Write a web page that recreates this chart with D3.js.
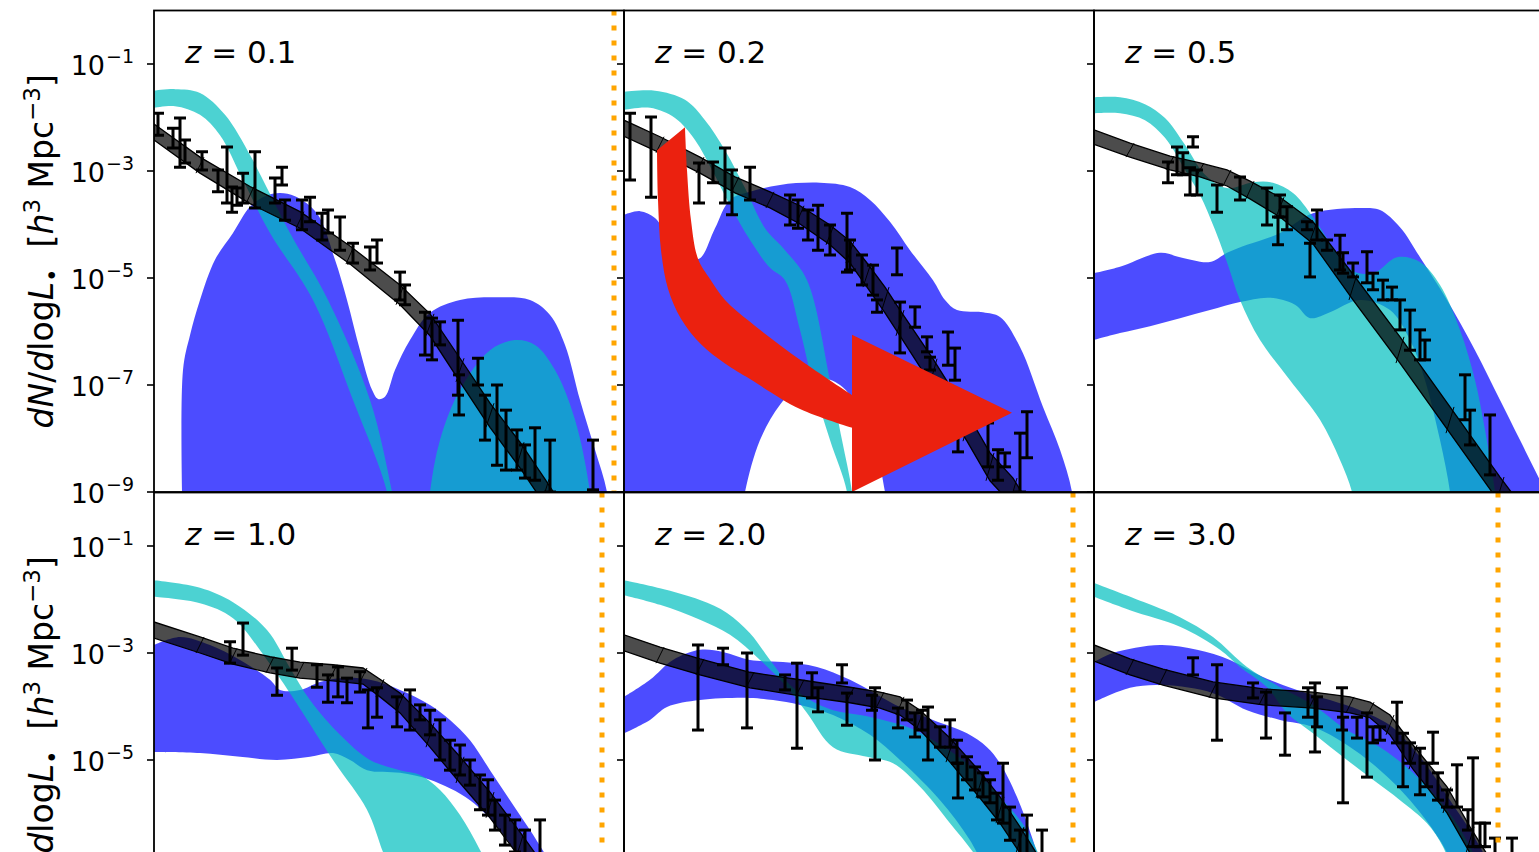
<!DOCTYPE html>
<html>
<head>
<meta charset="utf-8">
<script src="https://cdn.jsdelivr.net/npm/d3@7"></script>
<style>
  body { margin: 0; background: #fff; }
  svg { display: block; font-family: "DejaVu Sans", sans-serif; }
</style>
</head>
<body>
<svg id="chart" width="1539" height="852"></svg>
<script>
// x: log10 L_bol, y: log10 dN/dlogL  (h^3 Mpc^-3)
const redshifts = ["0.1", "0.2", "0.5", "1.0", "2.0", "3.0"];
const yTickExps = [-1, -3, -5, -7, -9];
const limitL = [46.60, null, null, 46.48, 46.49, 46.04];

// ---- z = 0.1
const cyanHi_z01 = [[42.00,-1.50],[42.21,-1.47],[42.46,-1.54],[42.71,-1.95],[42.96,-2.70],[43.09,-3.17],[43.36,-4.16],[43.74,-5.41],[44.16,-7.28],[44.38,-9.00],[44.46,-9.90]];
const cyanLo_z01 = [[42.00,-1.82],[42.21,-1.79],[42.46,-1.95],[42.66,-2.33],[42.89,-3.17],[43.16,-4.16],[43.59,-5.41],[43.99,-7.28],[44.33,-9.00],[44.39,-9.90]];
const cyan2Hi_z01 = [[44.72,-9.90],[44.76,-9.00],[44.86,-8.03],[45.06,-7.09],[45.36,-6.35],[45.61,-6.16],[45.81,-6.25],[46.01,-6.72],[46.21,-7.65],[46.36,-9.00],[46.40,-9.90]];
const cyan2Lo_z01 = [[44.72,-9.90],[46.40,-9.90]];
const blueHi_z01 = [[42.29,-9.90],[42.29,-6.72],[42.36,-6.07],[42.46,-5.41],[42.61,-4.66],[42.79,-4.16],[42.96,-3.67],[43.11,-3.47],[43.26,-3.41],[43.41,-3.47],[43.63,-3.79],[43.81,-4.66],[43.93,-5.41],[44.06,-6.35],[44.18,-7.09],[44.24,-7.26],[44.31,-7.22],[44.41,-6.72],[44.56,-6.16],[44.76,-5.65],[45.06,-5.41],[45.46,-5.36],[45.76,-5.41],[45.96,-5.69],[46.11,-6.25],[46.26,-7.28],[46.41,-8.21],[46.53,-9.00],[46.58,-9.90]];
const blueLo_z01 = [[42.29,-9.90],[46.58,-9.90]];
const bh_z01 = [[42.00,-2.42,-2.12],[42.46,-3.04,-2.74],[42.96,-3.61,-3.29],[43.46,-4.07,-3.76],[43.96,-4.74,-4.40],[44.46,-5.50,-5.13],[44.76,-6.08,-5.67],[45.06,-6.94,-6.50],[45.36,-7.79,-7.34],[45.66,-8.55,-8.07],[45.91,-9.24,-8.76],[46.06,-9.67,-9.19]];
const obs_z01 = [[42.04,-2.33,-1.92],[42.19,-2.57,-2.20],[42.26,-2.93,-2.01],[42.31,-2.85,-2.42],[42.48,-2.98,-2.64],[42.64,-3.39,-2.98],[42.73,-3.60,-2.55],[42.78,-3.77,-3.30],[42.83,-3.64,-3.32],[42.89,-3.60,-3.04],[43.01,-3.69,-2.64],[43.21,-3.60,-3.13],[43.28,-3.26,-2.93],[43.31,-3.92,-3.54],[43.48,-4.10,-3.54],[43.56,-3.95,-3.49],[43.68,-4.29,-3.79],[43.74,-4.16,-3.73],[43.86,-4.48,-3.86],[43.99,-4.72,-4.35],[44.16,-4.85,-4.42],[44.23,-4.72,-4.29],[44.46,-5.41,-4.89],[44.51,-5.50,-5.13],[44.71,-6.44,-5.64],[44.78,-6.53,-5.75],[44.86,-6.25,-5.82],[45.04,-7.19,-5.79],[45.24,-7.00,-6.50],[45.05,-7.56,-6.81],[45.31,-8.03,-7.19],[45.43,-8.50,-7.00],[45.52,-8.59,-7.47],[45.63,-8.59,-7.84],[45.71,-8.74,-8.12],[45.81,-8.78,-7.80],[45.96,-9.00,-8.03],[46.39,-8.96,-8.03]];

// ---- z = 0.2
const cyanHi_z02 = [[42.00,-1.52],[42.31,-1.50],[42.61,-1.67],[42.81,-2.05],[43.01,-2.61],[43.21,-3.32],[43.41,-4.07],[43.61,-4.48],[43.83,-5.04],[44.06,-6.91],[44.18,-8.03],[44.28,-9.00],[44.32,-9.90]];
const cyanLo_z02 = [[42.00,-1.86],[42.26,-1.82],[42.51,-2.01],[42.71,-2.42],[42.88,-2.98],[43.06,-3.64],[43.26,-4.29],[43.46,-4.81],[43.61,-5.04],[43.76,-5.97],[43.88,-6.91],[44.06,-8.03],[44.23,-9.00],[44.27,-9.90]];
const blueHi_z02 = [[42.00,-3.82],[42.16,-3.75],[42.31,-3.88],[42.46,-4.29],[42.66,-4.63],[42.76,-4.63],[42.91,-4.07],[43.06,-3.54],[43.26,-3.39],[43.56,-3.26],[43.96,-3.22],[44.26,-3.30],[44.46,-3.54],[44.66,-3.95],[44.86,-4.48],[45.09,-5.04],[45.21,-5.41],[45.33,-5.60],[45.59,-5.64],[45.76,-5.73],[45.96,-6.29],[46.19,-7.41],[46.36,-8.21],[46.48,-9.00],[46.52,-9.90]];
const blueLo_z02 = [[42.00,-9.90],[43.14,-9.90],[43.21,-9.00],[43.36,-8.03],[43.56,-7.37],[43.76,-7.00],[43.96,-6.87],[44.16,-7.00],[44.36,-7.47],[44.51,-8.12],[44.61,-9.00],[44.68,-9.90],[46.52,-9.90]];
const bh_z02 = [[42.00,-2.35,-2.05],[42.36,-2.66,-2.36],[42.76,-3.04,-2.74],[43.11,-3.41,-3.11],[43.46,-3.69,-3.39],[43.76,-3.99,-3.65],[44.06,-4.38,-4.01],[44.26,-4.72,-4.31],[44.43,-5.17,-4.72],[44.61,-5.65,-5.17],[44.76,-6.08,-5.60],[45.09,-7.04,-6.51],[45.43,-8.05,-7.52],[45.66,-8.79,-8.27],[45.89,-9.26,-8.74],[46.06,-9.79,-9.26]];
const obs_z02 = [[42.06,-3.17,-1.92],[42.27,-3.49,-1.99],[42.75,-3.60,-2.85],[42.89,-3.22,-2.83],[43.01,-3.60,-2.57],[43.08,-3.82,-2.98],[43.26,-3.54,-2.93],[43.66,-4.01,-3.45],[43.74,-4.07,-3.54],[43.84,-4.29,-3.73],[43.94,-4.48,-3.64],[44.06,-4.57,-4.01],[44.23,-4.89,-3.79],[44.26,-4.85,-4.29],[44.38,-5.13,-4.57],[44.49,-5.32,-4.76],[44.73,-4.94,-4.44],[44.53,-5.64,-5.41],[44.76,-6.40,-5.45],[44.91,-5.92,-5.54],[45.03,-6.38,-6.10],[45.06,-6.72,-6.48],[45.24,-6.63,-6.01],[45.31,-6.91,-6.31],[45.34,-8.25,-7.65],[45.64,-8.53,-7.71],[45.74,-8.78,-8.21],[45.81,-8.53,-8.27],[45.96,-9.00,-7.90],[46.03,-8.36,-7.50]];
// annotation arrow, in the z = 0.2 panel's data coordinates
const arrowOuter = [[42.33,-2.61],[42.34,-3.54],[42.37,-4.48],[42.44,-5.20],[42.57,-5.76],[42.77,-6.24],[43.01,-6.60],[43.26,-6.89],[43.76,-7.45],[44.28,-7.80]];
const arrowHead = [[44.28,-9.00],[45.88,-7.52],[44.28,-6.06]];
const arrowInner = [[44.28,-7.19],[43.76,-6.53],[43.26,-5.82],[43.01,-5.41],[42.86,-5.02],[42.74,-4.64],[42.67,-3.92],[42.63,-2.98],[42.61,-2.18]];

// ---- z = 0.5
const cyanHi_z05 = [[42.00,-1.62],[42.26,-1.62],[42.51,-1.75],[42.71,-2.01],[42.91,-2.51],[43.11,-3.07],[43.33,-3.32],[43.59,-3.21],[43.79,-3.22],[43.99,-3.41],[44.19,-3.86],[44.41,-4.48],[44.61,-4.89],[44.81,-4.89],[45.03,-4.61],[45.26,-4.70],[45.46,-5.13],[45.66,-5.97],[45.81,-6.91],[45.91,-7.84],[46.01,-9.00],[46.06,-9.90]];
const cyanLo_z05 = [[42.00,-1.92],[42.26,-1.92],[42.51,-2.05],[42.71,-2.38],[42.91,-2.98],[43.06,-3.45],[43.21,-4.10],[43.34,-4.76],[43.46,-5.41],[43.66,-6.16],[43.96,-6.91],[44.26,-7.65],[44.46,-8.40],[44.58,-9.00],[44.66,-9.90]];
const blueHi_z05 = [[42.00,-4.91],[42.26,-4.79],[42.66,-4.53],[42.86,-4.61],[43.16,-4.70],[43.33,-4.53],[43.53,-4.38],[43.86,-4.16],[44.19,-3.79],[44.69,-3.69],[44.86,-3.73],[45.06,-4.05],[45.26,-4.61],[45.53,-5.41],[45.81,-6.35],[46.06,-7.28],[46.26,-8.03],[46.46,-8.78],[46.66,-9.52]];
const blueLo_z05 = [[42.00,-6.16],[42.26,-6.03],[42.56,-5.90],[42.86,-5.75],[43.16,-5.60],[43.46,-5.45],[43.76,-5.37],[44.01,-5.50],[44.16,-5.75],[44.36,-5.64],[44.66,-5.41],[44.96,-5.60],[45.16,-6.16],[45.31,-6.91],[45.46,-8.03],[45.56,-9.00],[45.61,-9.90]];
const bh_z05 = [[42.00,-2.50,-2.23],[42.36,-2.74,-2.48],[42.76,-2.98,-2.72],[43.06,-3.11,-2.85],[43.33,-3.28,-2.98],[43.56,-3.52,-3.19],[43.86,-3.86,-3.49],[44.19,-4.36,-3.95],[44.59,-5.41,-4.93],[45.06,-6.59,-6.10],[45.56,-7.90,-7.41],[46.06,-9.21,-8.72],[46.36,-9.95,-9.47]];
const obs_z05 = [[42.74,-3.22,-2.83],[42.83,-3.07,-2.55],[42.89,-3.07,-2.66],[42.99,-2.55,-2.36],[42.96,-3.45,-2.94],[43.03,-3.45,-2.98],[43.23,-3.77,-3.26],[43.46,-3.54,-3.11],[43.73,-4.01,-3.32],[43.86,-3.86,-3.45],[43.84,-4.38,-3.86],[43.93,-4.10,-3.67],[44.13,-4.10,-3.95],[44.16,-4.98,-4.35],[44.23,-4.29,-3.73],[44.33,-4.48,-4.29],[44.46,-4.85,-4.20],[44.49,-4.91,-4.53],[44.59,-4.98,-4.72],[44.73,-5.09,-4.51],[44.79,-5.22,-4.91],[44.89,-5.41,-5.04],[44.98,-5.41,-5.17],[45.06,-5.97,-5.41],[45.16,-6.35,-5.60],[45.26,-6.53,-5.97],[45.31,-6.53,-6.16],[45.71,-7.65,-6.81],[45.76,-8.12,-7.47],[45.96,-8.68,-7.56]];

// ---- z = 1.0
const cyanHi_z10 = [[42.00,-1.64],[42.46,-1.78],[42.79,-2.05],[43.13,-2.57],[43.36,-3.28],[43.56,-3.88],[43.86,-4.53],[44.16,-5.00],[44.46,-5.19],[44.66,-5.28],[44.86,-5.56],[45.06,-6.03],[45.26,-6.68],[45.41,-7.24]];
const cyanLo_z10 = [[42.00,-1.95],[42.46,-2.07],[42.79,-2.35],[43.13,-3.13],[43.36,-3.75],[43.79,-5.00],[44.13,-5.93],[44.29,-6.72],[44.41,-7.24]];
const blueHi_z10 = [[42.00,-2.85],[42.26,-2.70],[42.56,-2.85],[42.86,-3.13],[43.16,-3.50],[43.26,-3.69],[43.46,-3.69],[43.66,-3.54],[43.86,-3.47],[44.16,-3.50],[44.46,-3.69],[44.76,-3.97],[44.96,-4.25],[45.16,-4.63],[45.36,-5.19],[45.56,-5.75],[45.76,-6.31],[45.96,-6.91],[46.06,-7.24]];
const blueLo_z10 = [[42.00,-4.85],[42.46,-4.87],[42.86,-4.94],[43.23,-5.00],[43.56,-4.94],[43.79,-4.87],[43.96,-5.00],[44.13,-5.19],[44.46,-5.24],[44.76,-5.37],[45.16,-5.75],[45.46,-6.31],[45.66,-6.87],[45.76,-7.24]];
const bh_z10 = [[42.00,-2.72,-2.42],[42.46,-3.00,-2.70],[42.79,-3.21,-2.91],[43.16,-3.37,-3.07],[43.46,-3.47,-3.17],[43.79,-3.52,-3.22],[44.09,-3.58,-3.28],[44.26,-3.82,-3.49],[44.46,-4.12,-3.75],[44.76,-4.76,-4.31],[45.06,-5.43,-4.94],[45.36,-6.08,-5.60],[45.66,-6.83,-6.35],[45.91,-7.49,-7.00]];
const obs_z10 = [[42.76,-3.19,-2.79],[42.89,-3.04,-2.44],[43.23,-3.79,-3.28],[43.38,-3.32,-2.91],[43.63,-3.64,-3.22],[43.74,-3.92,-3.41],[43.84,-3.82,-3.26],[43.93,-3.93,-3.47],[44.06,-3.73,-3.35],[44.14,-4.40,-3.69],[44.23,-4.20,-3.65],[44.43,-4.38,-3.82],[44.56,-4.44,-3.69],[44.66,-4.25,-3.97],[44.76,-4.53,-4.07],[44.86,-5.00,-4.25],[44.96,-5.19,-4.63],[45.06,-5.28,-4.72],[45.16,-5.47,-5.00],[45.26,-5.93,-5.28],[45.34,-6.03,-5.37],[45.41,-6.31,-5.75],[45.51,-6.59,-6.03],[45.61,-6.72,-6.12],[45.71,-6.87,-6.31],[45.86,-7.06,-6.12]];

// ---- z = 2.0
const cyanHi_z20 = [[42.00,-1.64],[42.36,-1.79],[42.76,-2.01],[43.03,-2.25],[43.26,-2.63],[43.46,-3.13],[43.66,-3.60],[43.86,-3.88],[44.09,-4.07],[44.36,-4.16],[44.59,-4.25],[44.86,-4.40],[45.09,-4.63],[45.43,-5.06],[45.76,-5.69],[46.03,-6.31],[46.21,-7.06]];
const cyanLo_z20 = [[42.00,-1.92],[42.36,-2.10],[42.76,-2.38],[43.06,-2.66],[43.36,-3.13],[43.63,-3.64],[43.83,-4.12],[44.09,-4.76],[44.43,-4.94],[44.69,-5.06],[44.96,-5.50],[45.26,-6.18],[45.49,-6.72],[45.66,-7.24]];
const blueHi_z20 = [[42.00,-3.82],[42.26,-3.50],[42.49,-3.13],[42.76,-2.94],[42.99,-2.98],[43.26,-3.13],[43.59,-3.17],[43.93,-3.26],[44.26,-3.50],[44.76,-4.01],[45.09,-4.25],[45.43,-4.50],[45.63,-4.76],[45.76,-5.06],[45.93,-5.69],[46.09,-6.50],[46.21,-7.24]];
const blueLo_z20 = [[42.00,-4.50],[42.26,-4.25],[42.43,-4.01],[42.76,-3.88],[43.26,-3.84],[43.49,-3.88],[43.76,-3.97],[44.09,-4.16],[44.46,-4.53],[44.76,-5.00],[45.16,-5.75],[45.46,-6.50],[45.66,-7.24]];
const bh_z20 = [[42.00,-2.96,-2.66],[42.36,-3.19,-2.89],[42.76,-3.41,-3.11],[43.26,-3.65,-3.36],[43.76,-3.80,-3.50],[44.26,-3.93,-3.64],[44.56,-4.03,-3.73],[44.76,-4.16,-3.82],[44.96,-4.44,-4.07],[45.26,-5.04,-4.59],[45.56,-5.71,-5.22],[45.76,-6.18,-5.69],[45.96,-6.74,-6.25],[46.21,-7.49,-7.00]];
const obs_z20 = [[42.74,-4.44,-2.85],[42.99,-3.22,-2.91],[43.23,-4.40,-3.00],[43.61,-3.69,-3.41],[43.73,-4.78,-3.19],[43.88,-3.84,-3.37],[43.94,-4.10,-3.65],[44.18,-3.56,-3.22],[44.23,-4.35,-3.75],[44.48,-4.07,-3.79],[44.51,-5.00,-3.65],[44.74,-4.40,-4.03],[44.83,-4.25,-3.88],[44.91,-4.57,-4.12],[44.98,-4.44,-4.07],[45.04,-5.00,-4.01],[45.16,-4.76,-4.38],[45.26,-4.76,-4.25],[45.33,-5.06,-4.63],[45.34,-5.71,-5.06],[45.43,-5.37,-4.94],[45.51,-5.56,-5.13],[45.59,-5.69,-5.24],[45.66,-5.80,-5.37],[45.73,-6.12,-5.62],[45.79,-6.18,-5.06],[45.86,-6.50,-5.88],[45.96,-6.87,-6.31],[46.03,-6.96,-6.03],[46.18,-7.06,-6.31]];

// ---- z = 3.0
const cyanHi_z30 = [[42.00,-1.69],[42.53,-2.07],[42.86,-2.33],[43.19,-2.70],[43.53,-3.26],[43.86,-3.64],[44.19,-3.97],[44.53,-4.44],[44.86,-4.76],[45.19,-5.24],[45.53,-5.93],[45.76,-6.62],[45.91,-7.24]];
const cyanLo_z30 = [[42.00,-1.95],[42.36,-2.20],[42.86,-2.51],[43.26,-2.94],[43.46,-3.26],[43.73,-3.64],[43.93,-4.12],[44.19,-4.50],[44.53,-5.00],[44.79,-5.37],[45.06,-5.75],[45.33,-6.18],[45.49,-6.62],[45.61,-7.24]];
const blueHi_z30 = [[42.00,-3.17],[42.19,-3.00],[42.66,-2.85],[43.03,-2.94],[43.36,-3.13],[43.69,-3.45],[44.03,-3.69],[44.36,-3.88],[44.66,-4.07],[44.96,-4.35],[45.16,-4.72],[45.36,-5.19],[45.56,-5.75],[45.76,-6.31],[45.96,-6.96]];
const blueLo_z30 = [[42.00,-3.92],[42.36,-3.65],[42.69,-3.60],[43.19,-3.75],[43.53,-4.07],[43.86,-4.25],[44.19,-4.38],[44.53,-4.72],[44.86,-5.19],[45.16,-5.75],[45.46,-6.50],[45.66,-7.24]];
const bh_z30 = [[42.00,-3.15,-2.85],[42.36,-3.41,-3.11],[42.69,-3.60,-3.30],[43.19,-3.84,-3.54],[43.69,-3.97,-3.67],[44.19,-4.03,-3.73],[44.56,-4.12,-3.82],[44.76,-4.21,-3.92],[44.96,-4.53,-4.16],[45.19,-5.17,-4.72],[45.53,-5.99,-5.50],[45.76,-6.74,-6.25],[46.01,-7.49,-7.00]];
const obs_z30 = [[42.99,-3.41,-3.09],[43.23,-4.63,-3.22],[43.59,-3.84,-3.56],[43.72,-4.59,-3.73],[43.91,-4.91,-4.12],[44.14,-4.20,-3.65],[44.21,-4.85,-3.56],[44.23,-4.38,-3.82],[44.48,-4.44,-3.65],[44.49,-5.80,-4.20],[44.63,-4.59,-4.20],[44.73,-5.32,-4.12],[44.79,-4.68,-4.38],[44.86,-4.63,-4.38],[45.03,-4.68,-3.92],[45.09,-5.50,-4.50],[45.16,-5.06,-4.68],[45.26,-5.65,-4.78],[45.39,-5.06,-4.48],[45.33,-5.50,-5.06],[45.44,-5.75,-5.24],[45.53,-5.88,-5.56],[45.63,-5.88,-5.09],[45.74,-6.31,-5.93],[45.79,-6.62,-4.96],[45.86,-6.62,-6.18],[45.91,-6.62,-6.18],[46.01,-7.06,-6.46],[46.18,-7.06,-6.46]];

const panels = [
  { cyan: [[cyanHi_z01, cyanLo_z01], [cyan2Hi_z01, cyan2Lo_z01]], blue: [blueHi_z01, blueLo_z01], bh: bh_z01, obs: obs_z01 },
  { cyan: [[cyanHi_z02, cyanLo_z02]], blue: [blueHi_z02, blueLo_z02], bh: bh_z02, obs: obs_z02, arrow: true },
  { cyan: [[cyanHi_z05, cyanLo_z05]], blue: [blueHi_z05, blueLo_z05], bh: bh_z05, obs: obs_z05 },
  { cyan: [[cyanHi_z10, cyanLo_z10]], blue: [blueHi_z10, blueLo_z10], bh: bh_z10, obs: obs_z10 },
  { cyan: [[cyanHi_z20, cyanLo_z20]], blue: [blueHi_z20, blueLo_z20], bh: bh_z20, obs: obs_z20 },
  { cyan: [[cyanHi_z30, cyanLo_z30]], blue: [blueHi_z30, blueLo_z30], bh: bh_z30, obs: obs_z30 }
];

const W = 470, H = 481.5;
const left0 = 154, rowTop = [10.5, 492.5];

const svg = d3.select("#chart");
const x = d3.scaleLinear().domain([42, 46.7]).range([0, W]);
const y = d3.scaleLog().domain([1e-9, 1]).range([H, 0]);
const py = v => y(Math.pow(10, v));

const smooth = d3.line().x(d => x(d[0])).y(d => py(d[1])).curve(d3.curveCatmullRom.alpha(0.5));
const straight = d3.line().x(d => x(d[0])).y(d => py(d[1]));

function bandPath(gen, hi, lo) {
  const a = gen(hi), b = gen(lo.slice().reverse());
  return a + "L" + b.slice(1) + "Z";
}

panels.forEach((p, i) => {
  const col = i % 3, row = Math.floor(i / 3);
  const g = svg.append("g").attr("transform", `translate(${left0 + col * W},${rowTop[row]})`);

  g.append("clipPath").attr("id", "clip" + i)
    .append("rect").attr("width", W).attr("height", H);
  const plot = g.append("g").attr("clip-path", `url(#clip${i})`);

  plot.append("path")
    .attr("d", bandPath(smooth, p.blue[0], p.blue[1]))
    .attr("fill", "#0000ff").attr("fill-opacity", 0.7);

  p.cyan.forEach(c => {
    plot.append("path")
      .attr("d", bandPath(smooth, c[0], c[1]))
      .attr("fill", "#00bfbf").attr("fill-opacity", 0.7);
  });

  const hi = p.bh.map(d => [d[0], d[2]]), lo = p.bh.map(d => [d[0], d[1]]);
  plot.append("path")
    .attr("d", bandPath(straight, hi, lo))
    .attr("fill", "#000").attr("fill-opacity", 0.7)
    .attr("stroke", "#000").attr("stroke-width", 1.3);
  plot.selectAll(".slash").data(p.bh.slice(1, -1)).enter().append("line")
    .attr("x1", d => x(d[0]) - 4).attr("y1", d => py(d[1]))
    .attr("x2", d => x(d[0]) + 4).attr("y2", d => py(d[2]))
    .attr("stroke", "#000").attr("stroke-width", 1);

  const bars = plot.selectAll(".err").data(p.obs).enter().append("g")
    .attr("stroke", "#000").attr("stroke-width", 3);
  bars.append("line")
    .attr("x1", d => x(d[0])).attr("x2", d => x(d[0]))
    .attr("y1", d => py(d[2])).attr("y2", d => py(d[1]));
  bars.append("line")
    .attr("x1", d => x(d[0]) - 6).attr("x2", d => x(d[0]) + 6)
    .attr("y1", d => py(d[2])).attr("y2", d => py(d[2]));
  bars.append("line")
    .attr("x1", d => x(d[0]) - 6).attr("x2", d => x(d[0]) + 6)
    .attr("y1", d => py(d[1])).attr("y2", d => py(d[1]));

  if (limitL[i] !== null) {
    plot.append("line")
      .attr("x1", x(limitL[i])).attr("x2", x(limitL[i]))
      .attr("y1", 0).attr("y2", H)
      .attr("stroke", "#ffa500").attr("stroke-width", 5)
      .attr("stroke-dasharray", "5 10");
  }

  if (p.arrow) {
    const path = smooth(arrowOuter) + "L" + arrowHead.map(d => `${x(d[0])},${py(d[1])}`).join("L")
      + "L" + smooth(arrowInner).slice(1) + "Z";
    plot.append("path").attr("d", path).attr("fill", "#eb210f");
  }

  // frame and ticks
  g.append("rect").attr("width", W).attr("height", H)
    .attr("fill", "none").attr("stroke", "#000").attr("stroke-width", 1.8);
  yTickExps.forEach(e => {
    g.append("line").attr("x1", -7).attr("x2", 0)
      .attr("y1", y(Math.pow(10, e))).attr("y2", y(Math.pow(10, e)))
      .attr("stroke", "#000").attr("stroke-width", 1.6);
    if (col === 0) {
      const t = g.append("text").attr("x", -20).attr("y", y(Math.pow(10, e)) + 11)
        .attr("text-anchor", "end").attr("font-size", 27).attr("fill", "#000");
      t.append("tspan").text("10");
      t.append("tspan").attr("dy", -12).attr("dx", 1).attr("font-size", 19).text("\u2212" + Math.abs(e));
    }
  });

  const title = g.append("text").attr("x", 31).attr("y", 52.5).attr("font-size", 31).attr("fill", "#000");
  title.append("tspan").attr("font-style", "italic").text("z");
  title.append("tspan").text(" = " + redshifts[i]);
});

// y labels
rowTop.forEach(t => {
  const lab = svg.append("text")
    .attr("transform", `translate(53,${t + H / 2}) rotate(-90)`)
    .attr("text-anchor", "middle").attr("font-size", 33).attr("fill", "#000");
  lab.append("tspan").attr("font-style", "italic").text("dN");
  lab.append("tspan").text("/");
  lab.append("tspan").attr("font-style", "italic").text("d");
  lab.append("tspan").text("log");
  lab.append("tspan").attr("font-style", "italic").text("L");
  lab.append("tspan").attr("dy", 7).attr("font-size", 23).text("\u2022");
  lab.append("tspan").attr("dy", -7).text("\u00a0\u00a0[");
  lab.append("tspan").attr("font-style", "italic").text("h");
  lab.append("tspan").attr("dy", -13).attr("font-size", 23).text("3");
  lab.append("tspan").attr("dy", 13).text("\u00a0Mpc");
  lab.append("tspan").attr("dy", -13).attr("font-size", 23).text("\u22123");
  lab.append("tspan").attr("dy", 13).text("]");
});
</script>
</body>
</html>
